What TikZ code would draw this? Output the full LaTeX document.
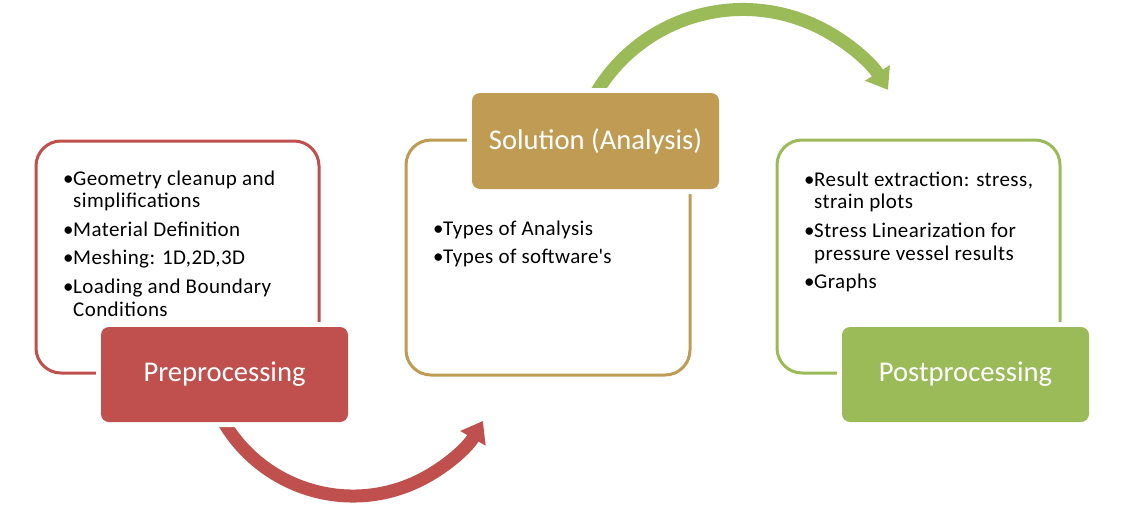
\documentclass[tikz,border=0pt]{standalone}
\usepackage{fontspec}
\setmainfont{Carlito}
\newfontfamily\bodyfont[LetterSpace=2]{Carlito}
\usetikzlibrary{arrows.meta}
\definecolor{pRed}{HTML}{C0504D}
\definecolor{pGold}{HTML}{BF9B53}
\definecolor{pGreen}{HTML}{9BBB59}
\newcommand\bul{\makebox[10pt][l]{•}}
\tikzset{
  outlinebox/.style={draw=#1, line width=3pt, fill=white, rounded corners=25pt, inner sep=0pt},
  labelbox/.style={fill=#1, preaction={draw=white, line width=10pt}, rounded corners=8pt,
    text=white, font=\fontsize{28.6}{32}\selectfont, minimum width=247pt, minimum height=95pt, inner sep=0pt},
  flowarrow/.style={draw=#1, line width=13pt, -{Triangle[width=28pt,length=20pt]}},
  bullets/.style={anchor=base west, inner sep=0pt, font=\bodyfont\fontsize{21}{22.5}\selectfont, text=black},
}
\begin{document}
\begin{tikzpicture}[x=1pt,y=-1pt]
\useasboundingbox (0,0) rectangle (1127,506);
% outline boxes
\node[outlinebox=pRed, minimum width=283pt, minimum height=232pt] (prebox) at (177.5,257) {};
\node[outlinebox=pGold, minimum width=284pt, minimum height=235pt] (solbox) at (548,257.5) {};
\node[outlinebox=pGreen, minimum width=283pt, minimum height=233pt] (postbox) at (918.5,256.5) {};
% bullet texts
\node[bullets] (pretext) at (63,185) {\begin{tabular}[t]{@{}l@{}l@{}}
\bul & Geometry cleanup and\\
 & simplifications\\[6.5pt]
\bul & Material Definition\\[5.5pt]
\bul & Meshing: 1D,2D,3D\\[6.5pt]
\bul & Loading and Boundary\\
 & Conditions
\end{tabular}};
\node[bullets] (soltext) at (433,235) {\begin{tabular}[t]{@{}l@{}l@{}}
\bul & Types of Analysis\\[5.5pt]
\bul & Types of software\textquotesingle s
\end{tabular}};
\node[bullets] (posttext) at (804,186) {\begin{tabular}[t]{@{}l@{}l@{}}
\bul & Result extraction: stress,\\
 & strain plots\\[6.5pt]
\bul & Stress Linearization for\\
 & pressure vessel results\\[6pt]
\bul & Graphs
\end{tabular}};
% arrows
\coordinate (redstart) at ([shift={(205:150pt)}]353,346);
\coordinate (greenstart) at ([shift={(155:171pt)}]743,180.5);
\draw[flowarrow=pRed] (redstart) arc[start angle=205, end angle=330, radius=150pt];
\draw[flowarrow=pGreen] (greenstart) arc[start angle=155, end angle=32, radius=171pt];
% label boxes
\node[labelbox=pRed] (pre) at (224.5,374.5) {Preprocessing};
\node[labelbox=pGold, minimum height=96pt] (sol) at (595.5,141) {Solution (Analysis)};
\node[labelbox=pGreen] (post) at (965.5,374.5) {Postprocessing};
\end{tikzpicture}
\end{document}
